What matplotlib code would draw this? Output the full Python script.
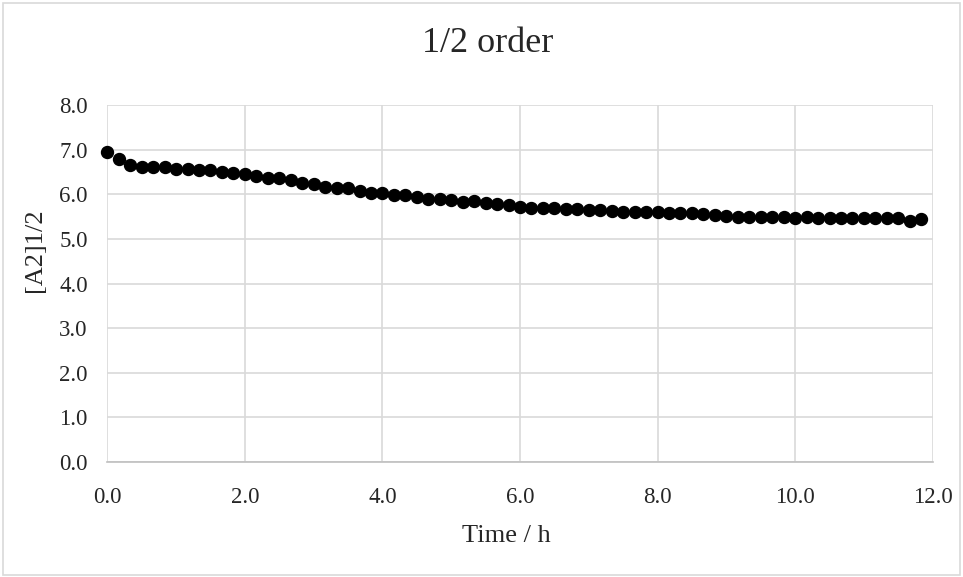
import matplotlib
matplotlib.use("Agg")
import matplotlib.pyplot as plt
from matplotlib.patches import Rectangle
import numpy as np

plt.rcParams['font.family'] = ['Liberation Serif', 'DejaVu Serif']

# Time in hours (10-minute intervals)
time_h = np.arange(72) / 6.0
# [A2]^1/2 values
values = [
    6.94, 6.79, 6.65, 6.61, 6.61, 6.62, 6.56, 6.56, 6.55, 6.55,
    6.50, 6.47, 6.46, 6.40, 6.36, 6.36, 6.32, 6.25, 6.24, 6.17,
    6.14, 6.13, 6.08, 6.02, 6.03, 5.99, 5.99, 5.93, 5.90, 5.90,
    5.87, 5.83, 5.84, 5.80, 5.78, 5.76, 5.72, 5.70, 5.70, 5.70,
    5.67, 5.67, 5.65, 5.65, 5.63, 5.61, 5.61, 5.60, 5.60, 5.59,
    5.58, 5.58, 5.55, 5.54, 5.52, 5.50, 5.50, 5.50, 5.50, 5.50,
    5.46, 5.48, 5.47, 5.46, 5.46, 5.46, 5.46, 5.46, 5.46, 5.46,
    5.41, 5.45,
]
x_ticks = [0, 2, 4, 6, 8, 10, 12]
y_ticks = [0, 1, 2, 3, 4, 5, 6, 7, 8]

W, H = 963, 577
fig = plt.figure(figsize=(W / 100, H / 100), dpi=100)
ax = fig.add_axes([107.3 / W, 1 - 462 / H, (932.7 - 107.3) / W, (462 - 105) / H])

fig.patches.append(Rectangle((0.003, 0.004), 0.994, 0.991, transform=fig.transFigure,
                             fill=False, edgecolor='#d9d9d9', linewidth=1.2))

ax.plot(time_h, values, linestyle='none', marker='o', markersize=8.6,
        color='black', clip_on=False, zorder=3)

ax.set_xlim(0, 12)
ax.set_ylim(0, 8)
ax.set_xticks(x_ticks)
ax.set_yticks(y_ticks)
ax.set_xticklabels([f"{v:.1f}" for v in x_ticks])
ax.set_yticklabels([f"{v:.1f}" for v in y_ticks])
ax.grid(True, color='#d9d9d9', linewidth=1.2)
ax.set_axisbelow(True)
for s in ['top', 'right', 'left']:
    ax.spines[s].set_visible(False)
ax.spines['bottom'].set_color('#bfbfbf')
ax.spines['bottom'].set_linewidth(1.2)
ax.tick_params(axis='both', length=0, labelsize=16.5, colors='#262626')
ax.tick_params(axis='x', pad=18)
ax.tick_params(axis='y', pad=14)

fig.text(506 / W, 1 - 542 / H, 'Time / h', fontsize=19, color='#262626',
         ha='center', va='baseline')
fig.text(35 / W, 1 - 250 / H, '[A2]1/2', fontsize=19, color='#262626',
         ha='center', va='center', rotation=90)
fig.text(488 / W, 1 - 52 / H, '1/2 order', fontsize=26, color='#262626',
         ha='center', va='baseline')

fig.savefig('out.png', dpi=100, facecolor='white')
